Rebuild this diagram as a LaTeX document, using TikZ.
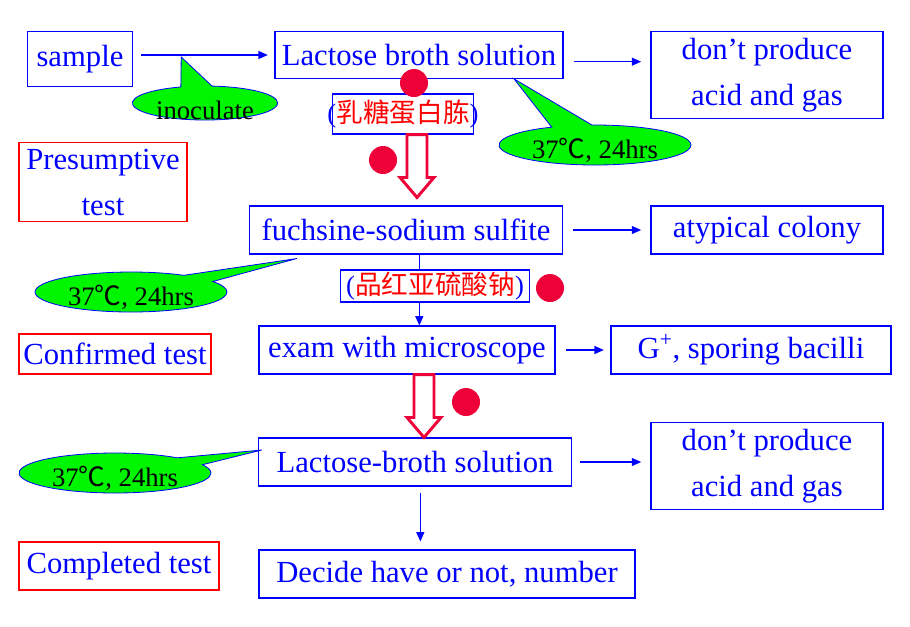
\documentclass[tikz,border=0pt]{standalone}
\usepackage{fontspec}
\setmainfont{Liberation Serif}
\newfontfamily\cjk{Noto Sans CJK SC}
\usetikzlibrary{arrows.meta,calc,shapes.callouts}
\definecolor{flowblue}{RGB}{0,0,255}
\definecolor{alertred}{RGB}{255,0,0}
\definecolor{dotred}{RGB}{238,0,56}
\definecolor{bubblegreen}{RGB}{0,245,0}
\newcommand\blueopen{{\rmfamily\color{flowblue}(}}
\newcommand\blueclose{{\rmfamily\color{flowblue})}}
\tikzset{
  flowbox/.style={draw=flowblue, line width=0.8pt, text=flowblue, inner sep=0pt, align=center, font=\fontsize{23}{34.5}\selectfont},
  testbox/.style={flowbox, draw=alertred},
  notebox/.style={draw=flowblue, line width=0.8pt, fill=white, inner ysep=0pt, text=alertred, font=\cjk\fontsize{20}{24}\selectfont},
  bubble/.style={ellipse callout, draw=flowblue, fill=bubblegreen, line width=0.6pt, inner sep=0pt, callout pointer arc=25, font=\fontsize{20}{24}\selectfont},
  link/.style={flowblue, line width=0.8pt, -{Triangle[length=7pt,width=6pt]}},
  hollow/.style={draw=dotred, line width=2.2pt, fill=white, line join=miter},
  reddot/.style={circle, fill=dotred, minimum size=21pt, inner sep=0pt}
}
% open red arrow pointing down, from #1 to the height of #2
\newcommand\hollowdown[2]{%
  \draw[hollow] let \p1=(#1), \p2=(#2) in
    (\x1-7.5pt,\y1) -- (\x1+7.5pt,\y1) -- (\x1+7.5pt,\y2+15pt) -- (\x1+12.75pt,\y2+15pt)
    -- (\x1,\y2) -- (\x1-12.75pt,\y2+15pt) -- (\x1-7.5pt,\y2+15pt) -- cycle;}

\begin{document}
\begin{tikzpicture}[x=0.75pt, y=-0.75pt]
  \useasboundingbox (0,0) rectangle (910,626);

  % main column
  \node[flowbox, minimum width=79pt, minimum height=41pt] (sample) at (80,59) {sample};
  \node[flowbox, minimum width=216pt, minimum height=35pt] (lact) at (419,55) {Lactose broth solution};
  \node[flowbox, minimum width=235pt, minimum height=36pt] (fuch) at (406,230) {fuchsine-sodium sulfite};
  \node[flowbox, minimum width=222pt, minimum height=36pt] (exam) at (407,350) {exam with microscope};
  \node[flowbox, minimum width=235pt, minimum height=36pt] (lact2) at (415,462) {Lactose-broth solution};
  \node[flowbox, minimum width=282pt, minimum height=36pt] (decide) at (447,574) {Decide have or not, number};

  % results
  \node[flowbox, minimum width=174pt, minimum height=65pt] (neg1) at (767,75) {don’t produce\\acid and gas};
  \node[flowbox, minimum width=174pt, minimum height=36pt] (atyp) at (767,230) {atypical colony};
  \node[flowbox, minimum width=210pt, minimum height=36pt] (gpos) at (751,350) {G\textsuperscript{+}, sporing bacilli};
  \node[flowbox, minimum width=174pt, minimum height=65pt] (neg2) at (767,466) {don’t produce\\acid and gas};

  % stages
  \node[testbox, minimum width=126pt, minimum height=59pt] (presum) at (103,182) {Presumptive\\test};
  \node[testbox, minimum width=144pt, minimum height=30pt] (confirm) at (115,354) {Confirmed test};
  \node[testbox, minimum width=150pt, minimum height=36pt] (complete) at (119,566) {Completed test};

  % connectors
  \draw[link, shorten <=6pt, shorten >=5pt] (sample.east |- lact.west) -- (lact.west);
  \draw[link, shorten <=7.5pt, shorten >=7pt] ([yshift=-5pt]lact.east) -- ([yshift=-5pt]lact.east -| neg1.west);
  \draw[link, shorten <=7.5pt, shorten >=7pt] (fuch) -- (atyp);
  \draw[link] ([xshift=10pt]fuch.south) -- ([xshift=10pt]fuch.south |- exam.north);
  \draw[link, shorten <=8pt, shorten >=5pt] (exam) -- (gpos);
  \draw[link, shorten <=6pt, shorten >=7pt] (lact2.east) -- (lact2.east -| neg2.west);
  \draw[link, shorten <=4.5pt, shorten >=6pt] ([xshift=4pt]lact2.south) -- ([xshift=4pt]lact2.south |- decide.north);

  % media
  \node[notebox, inner xsep=-4pt, minimum height=30pt] (lactmed) at (403,114) {\blueopen 乳糖蛋白胨\blueclose};
  \node[notebox, inner xsep=4pt, minimum height=24pt] (fuchmed) at (435,286) {\blueopen 品红亚硫酸钠\blueclose};

  \hollowdown{$(lactmed.south)+(14,0)$}{$(fuch.north)+(0,-8)$}
  \hollowdown{$(exam.south)+(17,0)$}{lact2.north}

  % callouts
  \node[bubble, minimum width=109pt, minimum height=25.5pt,
        callout absolute pointer={($(sample.east)+(48,-2)$)}] (inoc) at (205,103)
        {\raisebox{-12pt}[0pt][0pt]{inoculate}};
  \node[bubble, minimum width=144pt, minimum height=30pt,
        callout absolute pointer={($(lact.south)+(95,0)$)}] (incub1) at (595,145)
        {\raisebox{-10pt}[0pt][0pt]{37{\cjk ℃}, 24hrs}};
  \node[bubble, minimum width=144pt, minimum height=30pt,
        callout absolute pointer={($(fuch.south west)+(48,4)$)}] (incub2) at (131,292)
        {\raisebox{-10pt}[0pt][0pt]{37{\cjk ℃}, 24hrs}};
  \node[bubble, minimum width=144pt, minimum height=30pt,
        callout absolute pointer={($(lact2.west)+(4,-12)$)}] (incub3) at (115,473)
        {\raisebox{-10pt}[0pt][0pt]{37{\cjk ℃}, 24hrs}};

  % markers
  \node[reddot] (dotA) at (414,83) {};
  \node[reddot] (dotB) at (383,160) {};
  \node[reddot] (dotC) at (550,288) {};
  \node[reddot] (dotD) at (466,402) {};
\end{tikzpicture}
\end{document}
